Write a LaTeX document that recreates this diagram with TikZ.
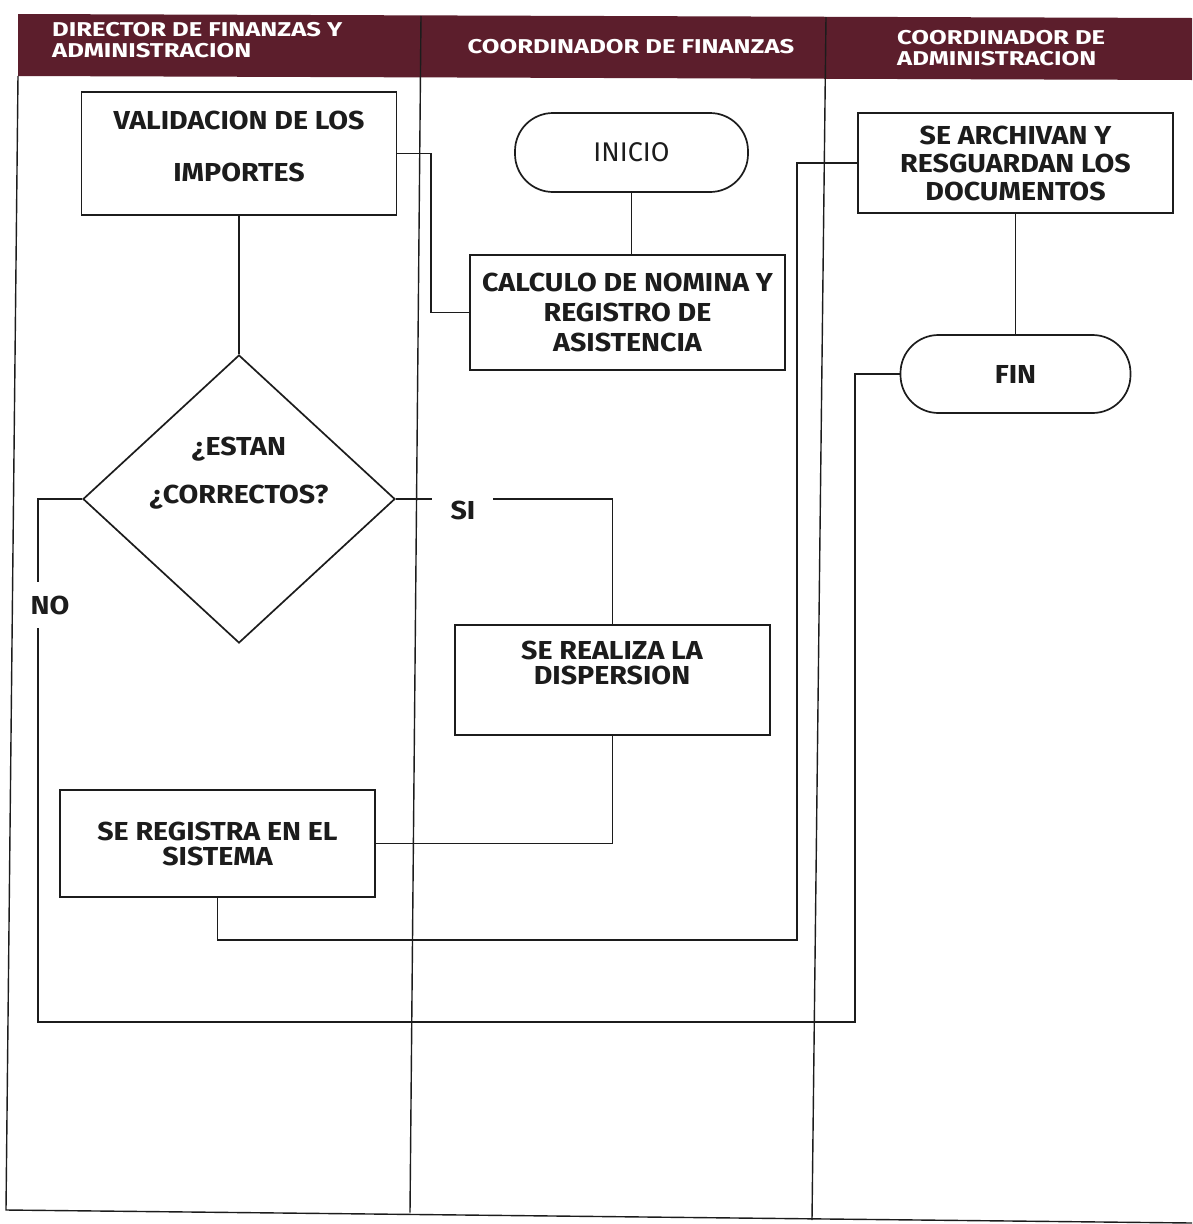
\documentclass[tikz,border=0pt]{standalone}
\usepackage{fontspec}
\setmainfont{Fira Sans}
\newfontfamily\bxfam{Fira Sans}[FakeStretch=1.1]
\newfontfamily\hdfam{Fira Sans}[FakeStretch=1.28]
\usetikzlibrary{shapes.geometric}
\definecolor{hdr}{RGB}{92,30,44}
\definecolor{ink}{RGB}{28,28,28}
\newcommand\bxfont{\bxfam\bfseries\fontsize{26}{30}\selectfont}
\newcommand\rgfont{\fontsize{27}{30}\selectfont}
\newcommand\hdfont{\hdfam\bfseries\fontsize{20}{20.5}\selectfont}
\begin{document}
\begin{tikzpicture}[x=1pt,y=-1pt,
  line/.style={draw=ink,line width=1.7pt},
  lane/.style={draw=ink,line width=1.4pt},
  proc/.style={draw=ink,line width=1.7pt,fill=white,rectangle,inner sep=0pt,align=center,font=\bxfont,text=ink},
  term/.style={draw=ink,line width=1.7pt,fill=white,rectangle,rounded corners=38pt,inner sep=0pt,align=center,text=ink},
  decis/.style={draw=ink,line width=1.7pt,fill=white,diamond,inner sep=0pt},
  lbl/.style={font=\bxfont,text=ink,inner sep=0pt,align=center},
  hd/.style={font=\hdfont,text=white,inner sep=0pt,align=left}]
\useasboundingbox (0,0) rectangle (1192,1224);
\fill[white] (0,0) rectangle (1192,1224);
% header band
\fill[hdr] (18,14) -- (1192,18) -- (1192,80) -- (18,76) -- cycle;
% lanes
\draw[lane] (18,76) -- (6,1210) -- (1192,1223);
\draw[lane] (421,16) -- (410,1212.5);
\draw[lane] (826,17) -- (812,1220);
% header texts
\node[hd,anchor=west] (h1) at (52,40) {DIRECTOR DE FINANZAS Y\\ADMINISTRACION};
\node[hd] (h2) at (631,47) {COORDINADOR DE FINANZAS};
\node[hd,anchor=west] (h3) at (897,48) {COORDINADOR DE\\ADMINISTRACION};
% shapes
\node[proc,minimum width=315pt,minimum height=123pt] (val) at (239,153.5) {};
\node[lbl] (valt) at (239,146) {VALIDACION DE LOS\\[22pt]IMPORTES};
\node[term,minimum width=233pt,minimum height=79pt,font=\rgfont] (ini) at (631.5,152.5) {INICIO};
\node[proc,minimum width=315pt,minimum height=115pt] (calc) at (627.5,312.5) {CALCULO DE NOMINA Y\\REGISTRO DE\\ASISTENCIA};
\node[decis,minimum width=312pt,minimum height=288pt] (dec) at (239,499) {};
\node[lbl] (dect) at (239,473) {¿ESTAN\\[18pt]¿CORRECTOS?};
\node[lbl] (si) at (463,510) {SI};
\node[lbl] (no) at (50,605) {NO};
\node[proc,minimum width=315pt,minimum height=110pt] (disp) at (612.5,680) {};
\node[lbl] (dispt) at (612,663) {SE REALIZA LA\\[-5pt]DISPERSION};
\node[proc,minimum width=315pt,minimum height=107pt] (reg) at (217.5,843.5) {SE REGISTRA EN EL\\[-5pt]SISTEMA};
\node[proc,minimum width=315pt,minimum height=100pt] (arch) at (1015.5,163) {SE ARCHIVAN Y\\[-2pt]RESGUARDAN LOS\\[-2pt]DOCUMENTOS};
\node[term,minimum width=230pt,minimum height=78pt,font=\bxfont] (fin) at (1015.5,374) {FIN};
% free-end coordinates
\coordinate (siL) at (432,499);
\coordinate (siR) at (493,499);
\coordinate (noA) at (38,582);
\coordinate (noB) at (38,628);
\coordinate (noC) at (38,1022);
\coordinate (noD) at (855,1022);
\coordinate (rgA) at (797,940);
% connectors
\draw[line] (val.east) -| ([xshift=-38pt]calc.west) -- (calc.west);
\draw[line] (ini.south) -- (ini.south |- calc.north);
\draw[line] (val.south) -- (dec.north);
\draw[line] (dec.east) -- (siL);
\draw[line] (siR) -| (disp.north);
\draw[line] (dec.west) -| (noA);
\draw[line] (noB) -- (noC) -- (noD) |- (fin.west);
\draw[line] (disp.south) |- (reg.east);
\draw[line] (reg.south) |- (rgA) |- (arch.west);
\draw[line] (arch.south) -- (arch.south |- fin.north);
\end{tikzpicture}
\end{document}
